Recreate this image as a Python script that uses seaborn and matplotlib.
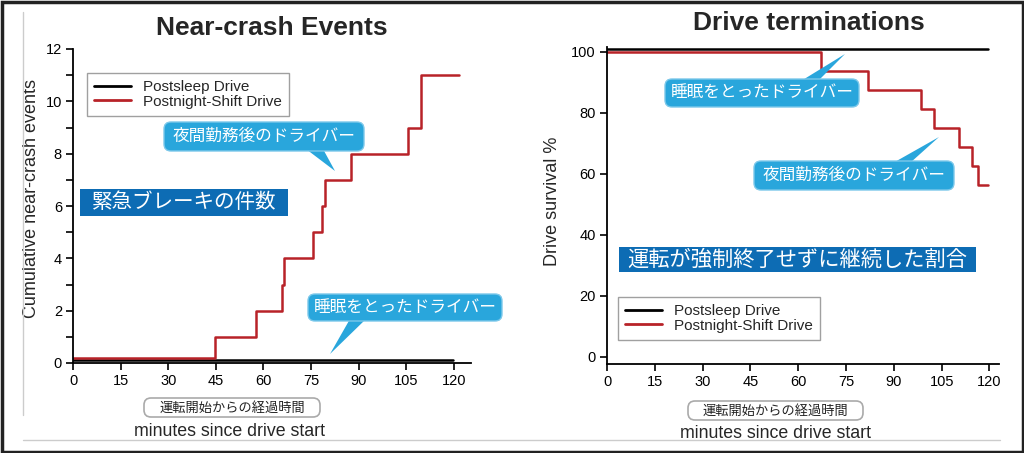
import numpy as np
import pandas as pd
import seaborn as sns
import matplotlib
matplotlib.use("Agg")
import matplotlib.pyplot as plt
from matplotlib.patches import FancyBboxPatch, Polygon, Rectangle
from matplotlib.lines import Line2D
from matplotlib.ticker import MultipleLocator

# ---------------- data ----------------
series_names = ["Postsleep Drive", "Postnight-Shift Drive"]

# Near-crash events (cumulative)
nc_sleep_t = [0, 119.8]
nc_sleep_v = [0.1, 0.1]
nc_shift_t = [0, 44.7, 57.6, 65.7, 66.5, 75.7, 78.6, 79.4, 87.5, 105.7, 109.8, 121.7]
nc_shift_v = [0.2, 1, 2, 3, 4, 5, 6, 7, 8, 9, 11, 11]

# Drive survival %
ds_sleep_t = [0, 119.5]
ds_sleep_v = [101, 101]
ds_shift_t = [0, 67.0, 81.8, 98.6, 102.5, 110.4, 114.6, 116.4, 119.5]
ds_shift_v = [100, 93.75, 87.5, 81.25, 75, 68.75, 62.5, 56.25, 56.25]

x_ticks = [0, 15, 30, 45, 60, 75, 90, 105, 120]
left_titles = ("Near-crash Events", "Cumulative near-crash events")
right_titles = ("Drive terminations", "Drive survival %")
x_label = "minutes since drive start"
x_label_jp = "運転開始からの経過時間"
left_box_jp = "緊急ブレーキの件数"
right_box_jp = "運転が強制終了せずに継続した割合"
call_shift = "夜間勤務後のドライバー"
call_sleep = "睡眠をとったドライバー"

# ---------------- style ----------------
sns.set_theme(style="ticks")
plt.rcParams["font.family"] = ["Liberation Sans", "Noto Sans CJK JP", "DejaVu Sans"]
plt.rcParams["axes.linewidth"] = 1.3
plt.rcParams["xtick.major.width"] = 1.2
plt.rcParams["ytick.major.width"] = 1.2
plt.rcParams["ytick.minor.width"] = 1.2
plt.rcParams["xtick.major.size"] = 5
plt.rcParams["ytick.major.size"] = 5
plt.rcParams["ytick.minor.size"] = 5
plt.rcParams["xtick.color"] = "black"
plt.rcParams["ytick.color"] = "black"
plt.rcParams["axes.edgecolor"] = "black"

RED = "#b82228"
palette = {series_names[0]: "black", series_names[1]: RED}
JP = ["Noto Sans CJK JP", "DejaVu Sans"]
W, H = 1024, 453

def long_df(ts, vs):
    rows = []
    for name, t, v in zip(series_names, ts, vs):
        for a, b in zip(t, v):
            rows.append({"minutes": a, "value": b, "series": name})
    return pd.DataFrame(rows)

fig = plt.figure(figsize=(W / 100, H / 100), dpi=100)
fig.patch.set_facecolor("white")

def pax(x0, y0, x1, y1):
    return [x0 / W, 1 - y1 / H, (x1 - x0) / W, (y1 - y0) / H]

axL = fig.add_axes(pax(73, 49, 471, 363))
axR = fig.add_axes(pax(607, 47, 999, 364))

dfL = long_df([nc_sleep_t, nc_shift_t], [nc_sleep_v, nc_shift_v])
dfR = long_df([ds_sleep_t, ds_shift_t], [ds_sleep_v, ds_shift_v])

for ax, df in ((axL, dfL), (axR, dfR)):
    sns.lineplot(data=df, x="minutes", y="value", hue="series", hue_order=series_names,
                 palette=palette, drawstyle="steps-post", linewidth=1.8,
                 estimator=None, sort=False, ax=ax)
    sns.despine(ax=ax)
    ax.set_xticks(x_ticks)
    ax.tick_params(axis="both", labelsize=10.5, direction="out", pad=3)
    ax.set_xlabel("")
    ax.set_facecolor("white")

axL.set_xlim(0, 125.4)
axL.set_ylim(0, 12)
axL.yaxis.set_major_locator(MultipleLocator(2))
axL.yaxis.set_minor_locator(MultipleLocator(1))
axL.set_ylabel(left_titles[1], fontsize=13)
axL.yaxis.set_label_coords(-0.082, 0.525)

axR.set_xlim(0, 123)
axR.set_ylim(-2.3, 101.6)
axR.set_yticks([0, 20, 40, 60, 80, 100])
axR.set_ylabel(right_titles[1], fontsize=13)
axR.yaxis.set_label_coords(-0.118, 0.514)

# legends
for ax, (lx, ly) in ((axL, (87, 73)), (axR, (618, 297))):
    leg = ax.legend(title=None, loc="upper left",
                    bbox_to_anchor=(lx / W, 1 - ly / H), bbox_transform=fig.transFigure,
                    fontsize=11, frameon=True, fancybox=False, edgecolor="#888888",
                    handlelength=2.4, handletextpad=0.8, borderpad=0.45,
                    labelspacing=0.05, borderaxespad=0)
    leg.get_frame().set_linewidth(1.0)
    for ln in leg.get_lines():
        ln.set_linewidth(2.0)

# titles
fig.text(272 / W, 1 - 28 / H, left_titles[0], ha="center", va="center",
         fontsize=19, fontweight="bold")
fig.text(809 / W, 1 - 23 / H, right_titles[0], ha="center", va="center",
         fontsize=19, fontweight="bold")

# overlay in pixel coordinates for decorations
ov = fig.add_axes([0, 0, 1, 1], zorder=10)
ov.set_xlim(0, W)
ov.set_ylim(H, 0)
ov.axis("off")
ov.patch.set_alpha(0)

LB = "#29a6dc"
DB = "#0d6cb4"

def callout(text, box, tail):
    x0, y0, x1, y1 = box
    ov.add_patch(Polygon(tail, closed=True, facecolor=LB, edgecolor="none"))
    ov.add_patch(FancyBboxPatch((x0, y0), x1 - x0, y1 - y0,
                                boxstyle="round,pad=0,rounding_size=7",
                                facecolor=LB, edgecolor="#7cc8ea", linewidth=1.0))
    ov.text((x0 + x1) / 2, (y0 + y1) / 2, text, ha="center", va="center",
            color="white", fontsize=12, family=JP)

def darkbox(text, box, fs):
    x0, y0, x1, y1 = box
    ov.add_patch(Rectangle((x0, y0), x1 - x0, y1 - y0, facecolor=DB, edgecolor="none"))
    ov.text((x0 + x1) / 2, (y0 + y1) / 2, text, ha="center", va="center",
            color="white", fontsize=fs, family=JP)

def greybox(text, box):
    x0, y0, x1, y1 = box
    ov.add_patch(FancyBboxPatch((x0, y0), x1 - x0, y1 - y0,
                                boxstyle="round,pad=0,rounding_size=7",
                                facecolor="white", edgecolor="#aaaaaa", linewidth=1.2))
    ov.text((x0 + x1) / 2, (y0 + y1) / 2 + 0.5, text, ha="center", va="center",
            color="#222222", fontsize=9.5, family=JP)

# left chart decorations
callout(call_shift, (164, 122, 364, 151), [(306, 149), (323, 149), (335, 171)])
callout(call_sleep, (308, 294, 502, 321), [(350, 319), (366, 319), (330, 354)])
darkbox(left_box_jp, (80, 189, 288, 216), 14.8)
greybox(x_label_jp, (144, 398, 320, 417))
ov.text(230, 431, x_label, ha="center", va="center", fontsize=12.8)

# right chart decorations
callout(call_sleep, (665, 79, 859, 107), [(801, 81), (818, 81), (845, 54)])
callout(call_shift, (754, 161, 954, 190), [(893, 163), (910, 163), (939, 137)])
darkbox(right_box_jp, (619, 247, 976, 272), 15.3)
greybox(x_label_jp, (688, 401, 863, 420))
ov.text(776, 434, x_label, ha="center", va="center", fontsize=12.8)

# frame lines
ov.add_line(Line2D([23, 23], [12, 415], color="#cccccc", linewidth=1.0))
ov.add_line(Line2D([23, 1000], [440, 440], color="#cccccc", linewidth=1.0))
ov.add_patch(Rectangle((1.5, 1.5), W - 3, H - 3, facecolor="none",
                       edgecolor="#222222", linewidth=2.5))

fig.savefig("out.png", dpi=100)
